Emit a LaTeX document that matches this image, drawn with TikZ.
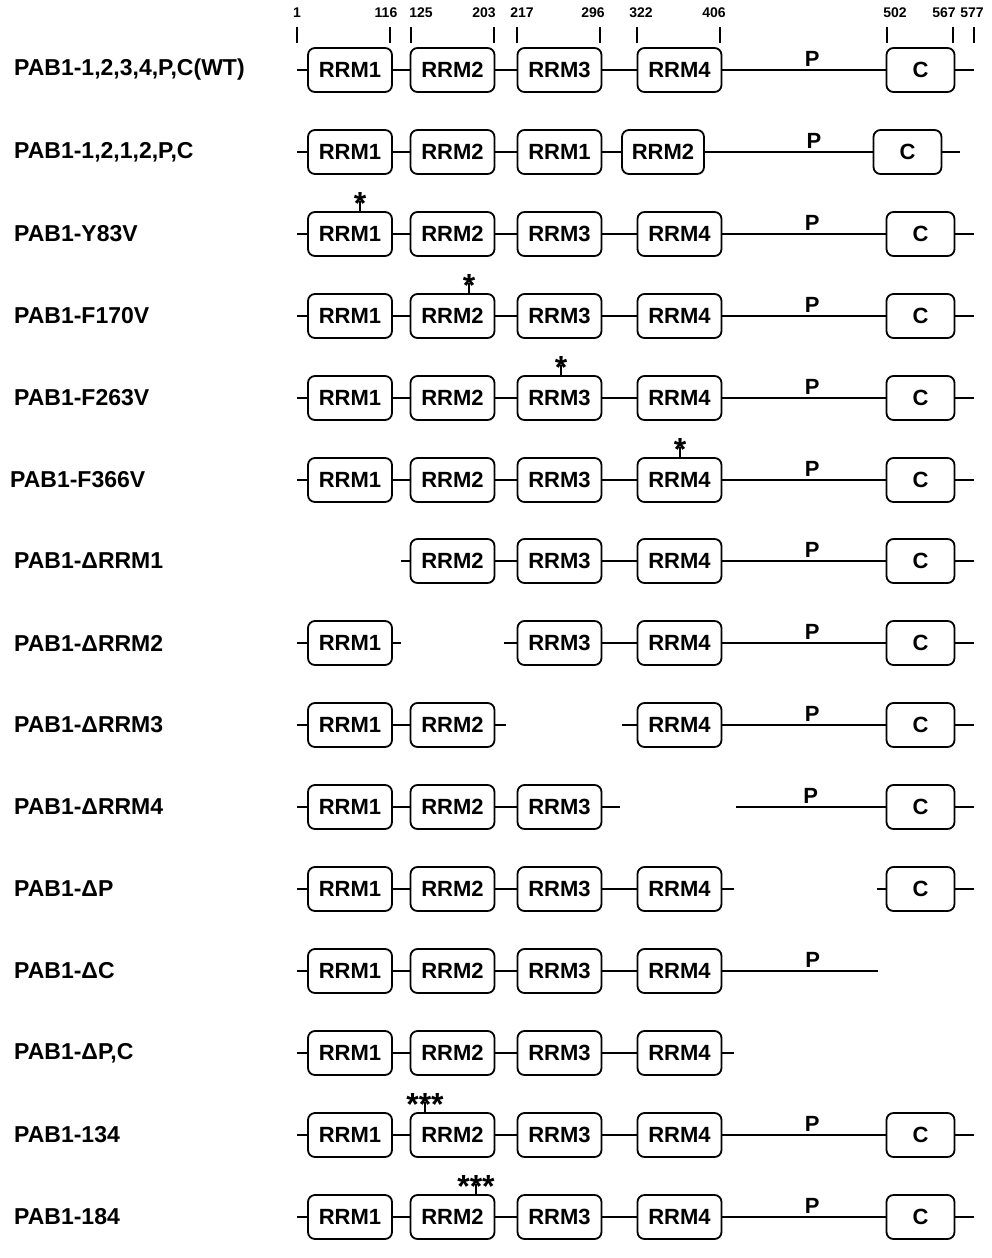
\documentclass[tikz,border=0pt]{standalone}
\usepackage{fontspec}
\setmainfont{Liberation Sans}
\usetikzlibrary{positioning,calc}

\begin{document}
\begin{tikzpicture}[x=1pt, y=-1pt,
    dom/.style={rectangle, rounded corners=7pt, draw, line width=1.8pt, minimum width=84pt, minimum height=44pt, inner sep=0pt, font=\fontsize{22}{22}\selectfont\bfseries},
    cdom/.style={dom, minimum width=68pt},
    link/.style={line width=1.8pt},
    tick/.style={line width=1.3pt},
    rowname/.style={anchor=west, inner sep=0pt, font=\fontsize{23}{23}\selectfont\bfseries},
    resnum/.style={inner sep=0pt, font=\fontsize{14}{14}\selectfont\bfseries},
    plabel/.style={above, inner sep=3pt, font=\fontsize{22}{22}\selectfont\bfseries},
    mutmark/.style={anchor=base, inner sep=0pt, font=\fontsize{32}{32}\selectfont\bfseries}
]
    \useasboundingbox (0,0) rectangle (992,1258);

    % Residue numbers
    \foreach \n/\tx/\lx in {1/297/297, 116/390/386, 125/411/421, 203/494/484, 217/517/522, 296/600/593, 322/637/641, 406/720/714, 502/887/895, 567/953/944, 577/974/972}{
        \node[resnum] (n\n) at (\lx,13) {\n};
        \draw[tick] (\tx,27) -- (\tx,43);
    }

    % Full-length rows
    \foreach \r/\y/\lx/\lab in {wt/70/14/{PAB1-1,2,3,4,P,C(WT)}, y83/234/14/{PAB1-Y83V}, f170/316/14/{PAB1-F170V}, f263/398/14/{PAB1-F263V}, f366/480/10/{PAB1-F366V}, m134/1135/14/{PAB1-134}, m184/1217/14/{PAB1-184}}{
        \node[rowname] (\r-n) at (\lx,\y) {\lab};
        \node[dom] (\r-1) at (350,\y) {RRM1};
        \node[dom] (\r-2) at (452.5,\y) {RRM2};
        \node[dom] (\r-3) at (559.5,\y) {RRM3};
        \node[dom] (\r-4) at (679.5,\y) {RRM4};
        \node[cdom] (\r-c) at (920.5,\y) {C};
        \coordinate (\r-s) at (297,\y);
        \coordinate (\r-e) at (974,\y);
        \draw[link] (\r-s) -- (\r-1.west) (\r-1.east) -- (\r-2.west) (\r-2.east) -- (\r-3.west)
            (\r-3.east) -- (\r-4.west) (\r-4.east) -- node[plabel, pos=0.55] {P} (\r-c.west) (\r-c.east) -- (\r-e);
    }

    % Point mutations
    \node[mutmark] (y83-m) at (360,214) {*};
    \draw[link] (y83-1.north -| y83-m) -- ++(0,-10);
    \node[mutmark] (f170-m) at (469,296) {*};
    \draw[link] (f170-2.north -| f170-m) -- ++(0,-10);
    \node[mutmark] (f263-m) at (561,378) {*};
    \draw[link] (f263-3.north -| f263-m) -- ++(0,-10);
    \node[mutmark] (f366-m) at (680,460) {*};
    \draw[link] (f366-4.north -| f366-m) -- ++(0,-10);
    \node[mutmark] (m134-m) at (425,1115) {***};
    \draw[link] (m134-2.north -| m134-m) -- ++(0,-10);
    \node[mutmark] (m184-m) at (476,1197) {***};
    \draw[link] (m184-2.north -| m184-m) -- ++(0,-10);

    % PAB1-1,2,1,2,P,C
    \node[rowname] (dup-n) at (14,152) {PAB1-1,2,1,2,P,C};
    \node[dom] (dup-1) at (350,152) {RRM1};
    \node[dom] (dup-2) at (452.5,152) {RRM2};
    \node[dom] (dup-3) at (559.5,152) {RRM1};
    \node[dom, minimum width=82pt] (dup-4) at (663,152) {RRM2};
    \node[cdom] (dup-c) at (907.5,152) {C};
    \coordinate (dup-s) at (297,152);
    \coordinate (dup-e) at (960,152);
    \draw[link] (dup-s) -- (dup-1.west) (dup-1.east) -- (dup-2.west) (dup-2.east) -- (dup-3.west)
        (dup-3.east) -- (dup-4.west) (dup-4.east) -- node[plabel, pos=0.65] {P} (dup-c.west) (dup-c.east) -- (dup-e);

    % PAB1-dRRM1
    \node[rowname] (dr1-n) at (14,561) {PAB1-ΔRRM1};
    \node[dom] (dr1-2) at (452.5,561) {RRM2};
    \node[dom] (dr1-3) at (559.5,561) {RRM3};
    \node[dom] (dr1-4) at (679.5,561) {RRM4};
    \node[cdom] (dr1-c) at (920.5,561) {C};
    \coordinate (dr1-s) at (401,561);
    \coordinate (dr1-e) at (974,561);
    \draw[link] (dr1-s) -- (dr1-2.west) (dr1-2.east) -- (dr1-3.west) (dr1-3.east) -- (dr1-4.west)
        (dr1-4.east) -- node[plabel, pos=0.55] {P} (dr1-c.west) (dr1-c.east) -- (dr1-e);

    % PAB1-dRRM2
    \node[rowname] (dr2-n) at (14,643) {PAB1-ΔRRM2};
    \node[dom] (dr2-1) at (350,643) {RRM1};
    \node[dom] (dr2-3) at (559.5,643) {RRM3};
    \node[dom] (dr2-4) at (679.5,643) {RRM4};
    \node[cdom] (dr2-c) at (920.5,643) {C};
    \coordinate (dr2-s) at (297,643);
    \coordinate (dr2-a) at (401,643);
    \coordinate (dr2-b) at (504,643);
    \coordinate (dr2-e) at (974,643);
    \draw[link] (dr2-s) -- (dr2-1.west) (dr2-1.east) -- (dr2-a) (dr2-b) -- (dr2-3.west) (dr2-3.east) -- (dr2-4.west)
        (dr2-4.east) -- node[plabel, pos=0.55] {P} (dr2-c.west) (dr2-c.east) -- (dr2-e);

    % PAB1-dRRM3
    \node[rowname] (dr3-n) at (14,725) {PAB1-ΔRRM3};
    \node[dom] (dr3-1) at (350,725) {RRM1};
    \node[dom] (dr3-2) at (452.5,725) {RRM2};
    \node[dom] (dr3-4) at (679.5,725) {RRM4};
    \node[cdom] (dr3-c) at (920.5,725) {C};
    \coordinate (dr3-s) at (297,725);
    \coordinate (dr3-a) at (506,725);
    \coordinate (dr3-b) at (622,725);
    \coordinate (dr3-e) at (974,725);
    \draw[link] (dr3-s) -- (dr3-1.west) (dr3-1.east) -- (dr3-2.west) (dr3-2.east) -- (dr3-a) (dr3-b) -- (dr3-4.west)
        (dr3-4.east) -- node[plabel, pos=0.55] {P} (dr3-c.west) (dr3-c.east) -- (dr3-e);

    % PAB1-dRRM4
    \node[rowname] (dr4-n) at (14,807) {PAB1-ΔRRM4};
    \node[dom] (dr4-1) at (350,807) {RRM1};
    \node[dom] (dr4-2) at (452.5,807) {RRM2};
    \node[dom] (dr4-3) at (559.5,807) {RRM3};
    \node[cdom] (dr4-c) at (920.5,807) {C};
    \coordinate (dr4-s) at (297,807);
    \coordinate (dr4-a) at (620,807);
    \coordinate (dr4-b) at (736,807);
    \coordinate (dr4-e) at (974,807);
    \draw[link] (dr4-s) -- (dr4-1.west) (dr4-1.east) -- (dr4-2.west) (dr4-2.east) -- (dr4-3.west) (dr4-3.east) -- (dr4-a)
        (dr4-b) -- node[plabel, pos=0.5] {P} (dr4-c.west) (dr4-c.east) -- (dr4-e);

    % PAB1-dP
    \node[rowname] (dp-n) at (14,889) {PAB1-ΔP};
    \node[dom] (dp-1) at (350,889) {RRM1};
    \node[dom] (dp-2) at (452.5,889) {RRM2};
    \node[dom] (dp-3) at (559.5,889) {RRM3};
    \node[dom] (dp-4) at (679.5,889) {RRM4};
    \node[cdom] (dp-c) at (920.5,889) {C};
    \coordinate (dp-s) at (297,889);
    \coordinate (dp-a) at (734,889);
    \coordinate (dp-b) at (877,889);
    \coordinate (dp-e) at (974,889);
    \draw[link] (dp-s) -- (dp-1.west) (dp-1.east) -- (dp-2.west) (dp-2.east) -- (dp-3.west) (dp-3.east) -- (dp-4.west)
        (dp-4.east) -- (dp-a) (dp-b) -- (dp-c.west) (dp-c.east) -- (dp-e);

    % PAB1-dC
    \node[rowname] (dc-n) at (14,971) {PAB1-ΔC};
    \node[dom] (dc-1) at (350,971) {RRM1};
    \node[dom] (dc-2) at (452.5,971) {RRM2};
    \node[dom] (dc-3) at (559.5,971) {RRM3};
    \node[dom] (dc-4) at (679.5,971) {RRM4};
    \coordinate (dc-s) at (297,971);
    \coordinate (dc-e) at (878,971);
    \draw[link] (dc-s) -- (dc-1.west) (dc-1.east) -- (dc-2.west) (dc-2.east) -- (dc-3.west) (dc-3.east) -- (dc-4.west)
        (dc-4.east) -- node[plabel, pos=0.58] {P} (dc-e);

    % PAB1-dP,C
    \node[rowname] (dpc-n) at (14,1053) {PAB1-ΔP,C};
    \node[dom] (dpc-1) at (350,1053) {RRM1};
    \node[dom] (dpc-2) at (452.5,1053) {RRM2};
    \node[dom] (dpc-3) at (559.5,1053) {RRM3};
    \node[dom] (dpc-4) at (679.5,1053) {RRM4};
    \coordinate (dpc-s) at (297,1053);
    \coordinate (dpc-e) at (734,1053);
    \draw[link] (dpc-s) -- (dpc-1.west) (dpc-1.east) -- (dpc-2.west) (dpc-2.east) -- (dpc-3.west) (dpc-3.east) -- (dpc-4.west)
        (dpc-4.east) -- (dpc-e);
\end{tikzpicture}
\end{document}
